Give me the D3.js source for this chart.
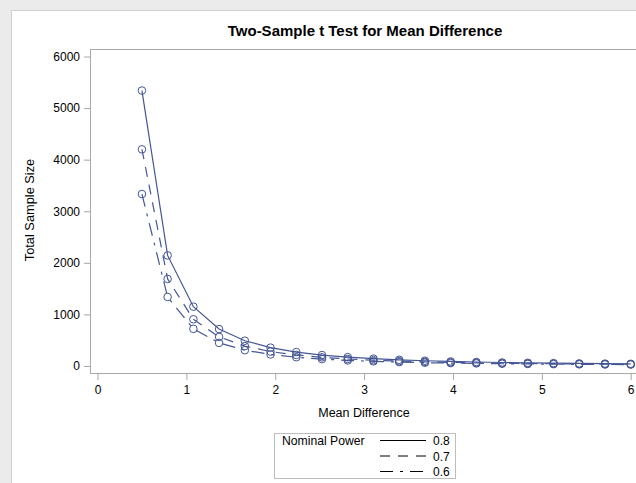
<!DOCTYPE html>
<html>
<head>
<meta charset="utf-8">
<script src="https://cdn.jsdelivr.net/npm/d3@7"></script>
<style>
  body { margin: 0; background: #ebebeb; }
  svg { display: block; font-family: "Liberation Sans", Arial, sans-serif; }
</style>
</head>
<body>
<div id="chart"></div>
<script>
// mean differences (x) and total sample sizes per nominal power
var mean_diff = [0.5, 0.789, 1.079, 1.368, 1.658, 1.947, 2.237, 2.526, 2.816, 3.105,
                 3.395, 3.684, 3.974, 4.263, 4.553, 4.842, 5.132, 5.421, 5.711, 6.0];
var n_power_08 = [5340, 2144, 1150, 716, 490, 356, 270, 212, 172, 142,
                  120, 102, 88, 78, 68, 62, 56, 50, 46, 42];
var n_power_07 = [4200, 1688, 906, 564, 386, 280, 214, 168, 136, 112,
                  94, 80, 70, 62, 54, 48, 44, 40, 36, 34];
var n_power_06 = [3334, 1338, 720, 448, 306, 224, 170, 134, 108, 90,
                  76, 64, 56, 50, 44, 40, 36, 32, 30, 28];
var power_labels = ["0.8", "0.7", "0.6"];
var x_ticks = [0, 1, 2, 3, 4, 5, 6];
var y_ticks = [0, 1000, 2000, 3000, 4000, 5000, 6000];

var width = 636, height = 483;
var line_col = "#445694";
var dashes = ["none", "10,8", "13,7,3,7"];

var svg = d3.select("#chart").append("svg")
  .attr("width", width)
  .attr("height", height);

// white panel with light border
svg.append("rect")
  .attr("x", 11.5).attr("y", 10.5)
  .attr("width", 700).attr("height", 600)
  .attr("fill", "#fff")
  .attr("stroke", "#cfcfcf");

var x = d3.scaleLinear().domain([0, 6]).range([97.5, 630.7]);
var y = d3.scaleLinear().domain([0, 6000]).range([366, 56.5]);

// frame of the plot area
svg.append("rect")
  .attr("x", 90.5).attr("y", 49.5)
  .attr("width", 700).attr("height", 324)
  .attr("fill", "none")
  .attr("stroke", "#a8a8a8");

var xAxis = svg.append("g")
  .attr("transform", "translate(0,374)")
  .call(d3.axisBottom(x).tickValues(x_ticks).tickSize(6).tickPadding(5).tickFormat(d3.format("d")));
var yAxis = svg.append("g")
  .attr("transform", "translate(90,0)")
  .call(d3.axisLeft(y).tickValues(y_ticks).tickSize(6).tickPadding(4).tickFormat(d3.format("d")));

[xAxis, yAxis].forEach(function(a) {
  a.select(".domain").remove();
  a.selectAll(".tick line").attr("stroke", "#a8a8a8");
  a.selectAll(".tick text").attr("fill", "#000").style("font-size", "12px")
    .style("font-family", "Liberation Sans, Arial, sans-serif");
});

// title and axis labels
svg.append("text")
  .attr("x", 365).attr("y", 36)
  .attr("text-anchor", "middle")
  .style("font-weight", "bold")
  .style("font-size", "15px")
  .text("Two-Sample t Test for Mean Difference");

svg.append("text")
  .attr("x", 364).attr("y", 417)
  .attr("text-anchor", "middle")
  .style("font-size", "12.5px")
  .text("Mean Difference");

svg.append("text")
  .attr("transform", "translate(34,210) rotate(-90)")
  .attr("text-anchor", "middle")
  .style("font-size", "12.8px")
  .text("Total Sample Size");

// series
var series = [n_power_08, n_power_07, n_power_06];
var line = d3.line()
  .x(function(d) { return x(d[0]); })
  .y(function(d) { return y(d[1]); });

series.forEach(function(vals, k) {
  var pts = mean_diff.map(function(m, i) { return [m, vals[i]]; });
  svg.append("path")
    .datum(pts)
    .attr("d", line)
    .attr("fill", "none")
    .attr("stroke", line_col)
    .attr("stroke-width", 1.2)
    .attr("stroke-dasharray", dashes[k]);
  svg.selectAll(".pt" + k)
    .data(pts)
    .enter()
    .append("circle")
    .attr("class", "pt" + k)
    .attr("cx", function(d) { return x(d[0]); })
    .attr("cy", function(d) { return y(d[1]); })
    .attr("r", 3.8)
    .attr("fill", "none")
    .attr("stroke", line_col)
    .attr("stroke-width", 1);
});

// legend
var lg = svg.append("g");
lg.append("rect")
  .attr("x", 274.5).attr("y", 433.5)
  .attr("width", 181).attr("height", 45)
  .attr("fill", "#fff")
  .attr("stroke", "#bdbdbd");
lg.append("text")
  .attr("x", 282).attr("y", 445)
  .style("font-size", "12.2px")
  .text("Nominal Power");
power_labels.forEach(function(p, k) {
  var yy = 440.5 + k * 15.5;
  lg.append("line")
    .attr("x1", 380).attr("x2", 426)
    .attr("y1", yy).attr("y2", yy)
    .attr("stroke", "#000")
    .attr("stroke-width", 1)
    .attr("stroke-dasharray", dashes[k]);
  lg.append("text")
    .attr("x", 433).attr("y", yy + 4.5)
    .style("font-size", "12px")
    .text(p);
});
</script>
</body>
</html>
